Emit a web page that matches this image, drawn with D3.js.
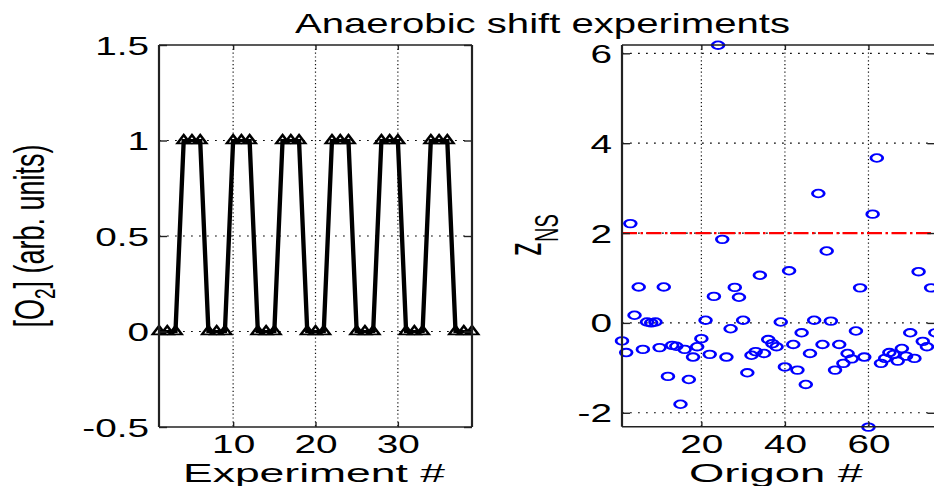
<!DOCTYPE html>
<html>
<head>
<meta charset="utf-8">
<script src="https://cdn.jsdelivr.net/npm/d3@7"></script>
<style>
  body { margin: 0; background: #fff; }
  svg { display: block; }
  text { font-family: "Liberation Sans", Arial, Helvetica, sans-serif; fill: #000; }
</style>
</head>
<body>
<div id="chart"></div>
<script>
const width = 934
const height = 486

// the original figure was stretched sideways, so marks and text are too
const S = 1.55

/* ---------- data ---------- */

// left panel: oxygen level per experiment
const experimentNo = [1,2,3,4,5,6,7,8,9,10,11,12,13,14,15,16,17,18,19,20,
  21,22,23,24,25,26,27,28,29,30,31,32,33,34,35,36,37,38,39]
const o2Level = [0,0,0,1,1,1, 0,0,0,1,1,1, 0,0,0,1,1,1, 0,0,0,1,1,1,
  0,0,0,1,1,1, 0,0,0,1,1,1, 0,0,0]

// right panel: z_NS per origon
const origonNo = [1,2,3,4,5,6,7,8,9,10,11,12,13,14,15,16,17,18,19,20,
  21,22,23,24,25,26,27,28,29,30,31,32,33,34,35,36,37,38,39,40,
  41,42,43,44,45,46,47,48,49,50,51,52,53,54,55,56,57,58,59,60,
  61,62,63,64,65,66,67,68,69,70,71,72,73,74,75,76]
const zNS = [-0.40,-0.66,2.21,0.17,0.80,-0.59,0.02,0.00,0.02,-0.55,
  0.80,-1.19,-0.50,-0.52,-1.81,-0.59,-1.26,-0.76,-0.53,-0.35,
  0.06,-0.70,0.59,6.18,1.86,-0.76,-0.13,0.79,0.57,0.06,
  -1.11,-0.72,-0.64,1.06,-0.68,-0.37,-0.46,-0.53,0.02,-0.98,
  1.16,-0.48,-1.05,-0.22,-1.37,-0.68,0.06,2.88,-0.48,1.60,
  0.04,-1.05,-0.48,-0.90,-0.68,-0.80,-0.18,0.78,-0.76,-2.32,
  2.42,3.67,-0.90,-0.79,-0.66,-0.70,-0.85,-0.57,-0.74,-0.22,
  -0.79,1.14,-0.41,-0.53,0.78,-0.22]
const threshold = 2

const leftXTicks = [10, 20, 30]
const leftYTicks = [-0.5, 0, 0.5, 1, 1.5]
const rightXTicks = [20, 40, 60]
const rightYTicks = [-2, 0, 2, 4, 6]

/* ---------- svg ---------- */

const svg = d3.select("#chart").append("svg")
  .attr("width", width)
  .attr("height", height)

svg.append("rect").attr("width", width).attr("height", height).attr("fill", "#fff")

const xL = d3.scaleLinear().domain([1, 39]).range([159, 472])
const yL = d3.scaleLinear().domain([-0.5, 1.5]).range([427, 45])

const xR = d3.scaleLinear().domain([1, 76]).range([622, 935.3])
const yR = d3.scaleLinear().domain([-2.31, 6.185]).range([426.7, 45])


function drawGrid(xs, ys, xTicks, yTicks){

  const [x0, x1] = xs.range()
  const [y0, y1] = ys.range()

  svg.append("g").selectAll("line").data(xTicks).join("line")
    .attr("x1", d => xs(d)).attr("x2", d => xs(d))
    .attr("y1", y1).attr("y2", y0)
    .attr("stroke", "#111").attr("stroke-width", 1.2)
    .attr("stroke-dasharray", "1.2,2.6")

  svg.append("g").selectAll("line").data(yTicks).join("line")
    .attr("x1", x0).attr("x2", x1)
    .attr("y1", d => ys(d)).attr("y2", d => ys(d))
    .attr("stroke", "#111").attr("stroke-width", 1.2)
    .attr("stroke-dasharray", "1.8,6.2")
}


function drawAxes(xs, ys, xTicks, yTicks){

  const [x0, x1] = xs.range()
  const [y0, y1] = ys.range()
  const fmt = d => String(d)

  const bottom = svg.append("g").attr("transform", `translate(0,${y0})`)
    .call(d3.axisBottom(xs).tickValues(xTicks).tickSize(-5).tickSizeOuter(0).tickFormat(fmt))
  bottom.selectAll("text")
    .attr("y", 26).attr("dy", null)
    .attr("font-size", 25)
    .attr("transform", `scale(${S},1)`)

  svg.append("g").attr("transform", `translate(0,${y1})`)
    .call(d3.axisTop(xs).tickValues(xTicks).tickSize(-5).tickSizeOuter(0).tickFormat(""))

  const left = svg.append("g").attr("transform", `translate(${x0},0)`)
    .call(d3.axisLeft(ys).tickValues(yTicks).tickSize(-8).tickSizeOuter(0).tickFormat(fmt))
  left.selectAll("text")
    .attr("x", -10 / S).attr("y", 9).attr("dy", null)
    .attr("font-size", 25)
    .attr("transform", `scale(${S},1)`)

  svg.append("g").attr("transform", `translate(${x1},0)`)
    .call(d3.axisRight(ys).tickValues(yTicks).tickSize(-8).tickSizeOuter(0).tickFormat(""))

  svg.selectAll(".domain").remove()
  svg.selectAll(".tick line").attr("stroke", "#222").attr("stroke-width", 1.4)

  /* box */
  const box = svg.append("g").attr("stroke", "#222")
  box.append("line").attr("x1", x0).attr("x2", x1).attr("y1", y0).attr("y2", y0).attr("stroke-width", 1.5)
  box.append("line").attr("x1", x0).attr("x2", x1).attr("y1", y1).attr("y2", y1).attr("stroke-width", 1.5)
  box.append("line").attr("x1", x0).attr("x2", x0).attr("y1", y1).attr("y2", y0).attr("stroke-width", 2.2)
  box.append("line").attr("x1", x1).attr("x2", x1).attr("y1", y1).attr("y2", y0).attr("stroke-width", 2.2)
}


/* ---------- left panel ---------- */

drawGrid(xL, yL, leftXTicks, leftYTicks.slice(1, -1))

const o2 = experimentNo.map((n, i) => ({x: n, y: o2Level[i]}))

const gL = svg.append("g").attr("transform", `scale(${S},1)`)

gL.append("path")
  .datum(o2)
  .attr("d", d3.line().x(d => xL(d.x) / S).y(d => yL(d.y)))
  .attr("fill", "none")
  .attr("stroke", "#000")
  .attr("stroke-width", 2.8)

gL.selectAll(".tri").data(o2).join("path")
  .attr("class", "tri")
  .attr("transform", d => `translate(${xL(d.x) / S},${yL(d.y)})`)
  .attr("d", "M0,-5.5L4.1,2.8L-4.1,2.8Z")
  .attr("fill", "none")
  .attr("stroke", "#000")
  .attr("stroke-width", 1.8)

drawAxes(xL, yL, leftXTicks, leftYTicks)


/* ---------- right panel ---------- */

drawGrid(xR, yR, rightXTicks, rightYTicks)

svg.append("line")
  .attr("x1", xR(1)).attr("x2", xR(76))
  .attr("y1", yR(threshold)).attr("y2", yR(threshold))
  .attr("stroke", "#ff0000")
  .attr("stroke-width", 2.2)
  .attr("stroke-dasharray", "15,3.5,2.5,3.5")

const zs = origonNo.map((n, i) => ({x: n, y: zNS[i]}))

const gR = svg.append("g").attr("transform", `scale(${S},1)`)

gR.selectAll("circle").data(zs).join("circle")
  .attr("cx", d => xR(d.x) / S)
  .attr("cy", d => yR(d.y))
  .attr("r", 3.8)
  .attr("fill", "none")
  .attr("stroke", "#0000ff")
  .attr("stroke-width", 1.8)

drawAxes(xR, yR, rightXTicks, rightYTicks)


/* ---------- titles and labels ---------- */

svg.append("text")
  .attr("x", 295).attr("y", 33)
  .attr("font-size", 28)
  .attr("textLength", 495)
  .attr("lengthAdjust", "spacingAndGlyphs")
  .text("Anaerobic shift experiments")

svg.append("text")
  .attr("x", 183).attr("y", 482)
  .attr("font-size", 25)
  .attr("textLength", 262)
  .attr("lengthAdjust", "spacingAndGlyphs")
  .text("Experiment #")

svg.append("text")
  .attr("x", 689).attr("y", 482)
  .attr("font-size", 25)
  .attr("textLength", 174)
  .attr("lengthAdjust", "spacingAndGlyphs")
  .text("Origon #")

const yLab = svg.append("text")
  .attr("transform", `translate(44,236) scale(${S},1) rotate(-90)`)
  .attr("text-anchor", "middle")
  .attr("font-size", 27)
yLab.append("tspan").text("[O")
yLab.append("tspan").attr("font-size", 19).attr("dy", 7).text("2")
yLab.append("tspan").attr("dy", -7).text("] (arb. units)")

const zLab = svg.append("text")
  .attr("transform", "translate(541,235) scale(1.7,1) rotate(-90)")
  .attr("text-anchor", "middle")
  .attr("font-size", 28)
zLab.append("tspan").text("z")
zLab.append("tspan").attr("font-size", 20).attr("dy", 10).text("NS")
</script>
</body>
</html>
